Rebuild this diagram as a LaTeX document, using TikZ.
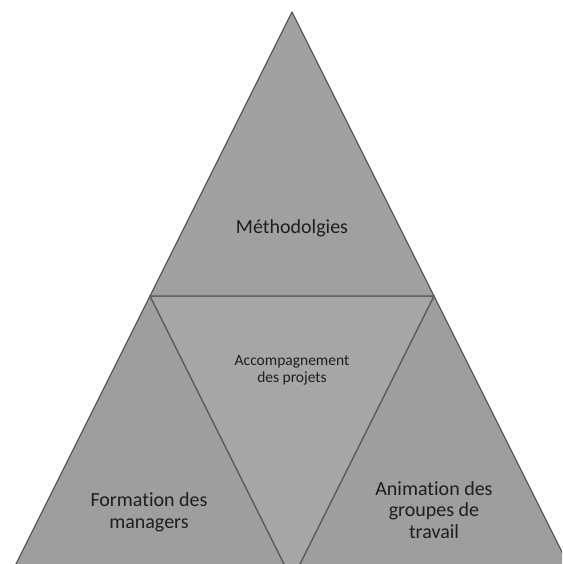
\documentclass[tikz,border=0pt]{standalone}
\usepackage{fontspec}
\setmainfont{Carlito}[Ligatures=NoCommon]
\definecolor{topgray}{HTML}{A0A0A0}
\definecolor{midgray}{HTML}{A6A6A6}
\definecolor{lowgray}{HTML}{9E9E9E}
\definecolor{edgegray}{HTML}{5A5A5A}
\definecolor{textgray}{HTML}{1E1E1E}
\begin{document}
\begin{tikzpicture}[x=1pt, y=-1pt, line join=round, line cap=round]
 \tikzset{part/.style={draw=edgegray, line width=1.3pt},
  biglbl/.style={align=center, text=textgray, inner sep=0pt, font=\fontsize{20}{21.5}\selectfont},
  smalllbl/.style={align=center, text=textgray, inner sep=0pt, font=\fontsize{15.5}{17}\selectfont}}
 \useasboundingbox (0,0) rectangle (562,564);
 \coordinate (apex) at (292,12);
 \coordinate (ml) at (150,296);
 \coordinate (mr) at (434,296);
 \coordinate (bl) at (8,580);
 \coordinate (bm) at (292,580);
 \coordinate (br) at (576,580);
 \begin{scope}
 \clip (0,0) rectangle (562,564);
 \filldraw[part, fill=lowgray] (ml) -- (bl) -- (bm) -- cycle;
 \filldraw[part, fill=lowgray] (mr) -- (bm) -- (br) -- cycle;
 \filldraw[part, fill=midgray] (ml) -- (mr) -- (bm) -- cycle;
 \filldraw[part, fill=topgray] (apex) -- (ml) -- (mr) -- cycle;
 \end{scope}
 \node[biglbl] (meth) at (292,228.5) {Méthodolgies};
 \node[smalllbl] (accomp) at (292,370) {Accompagnement\\des projets};
 \node[biglbl] (form) at (149,512.5) {Formation des\\managers};
 \node[biglbl] (anim) at (434,510) {Animation des\\groupes de\\travail};
\end{tikzpicture}
\end{document}
